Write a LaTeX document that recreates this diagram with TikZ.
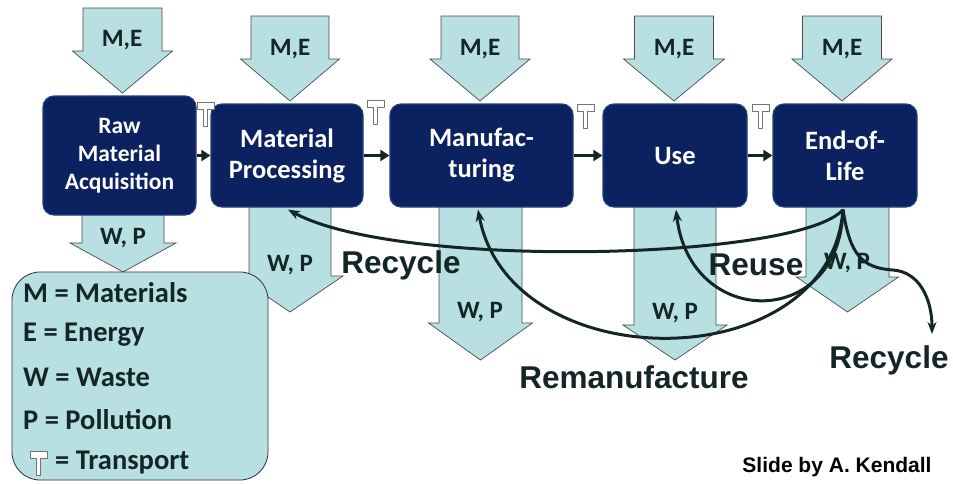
\documentclass[tikz,border=0pt]{standalone}
\usepackage{fontspec}
\setmainfont{Carlito}
\newfontfamily\arialf{Liberation Sans}
\usetikzlibrary{arrows.meta}
\definecolor{afill}{HTML}{B8E0E3}
\definecolor{navy}{HTML}{0C215F}
\definecolor{navyedge}{HTML}{23407F}
\definecolor{ink}{HTML}{142526}
\tikzset{
 blockarrow/.style={fill=afill, draw=black!70, line width=0.7pt, line join=miter},
 stage/.style={rounded corners=11pt, fill=navy, draw=navyedge, line width=1.2pt, text=white, align=center, inner sep=0pt, font=\fontsize{26.5}{31}\selectfont\bfseries},
 flowlbl/.style={text=ink, font=\fontsize{25}{28}\selectfont\bfseries, inner sep=0pt},
 leglbl/.style={text=ink, font=\fontsize{28.5}{30}\selectfont\bfseries, inner sep=0pt, anchor=west},
 bigtxt/.style={text=ink, font=\arialf\fontsize{31.5}{34}\selectfont\bfseries, inner sep=0pt},
 loopline/.style={draw=ink, line width=3pt, -{Stealth[length=12pt,width=9pt]}},
 flowline/.style={draw=ink, line width=3pt, -{Triangle[length=9pt,width=11pt]}},
 tsym/.style={fill=white, draw=black!55, line width=0.8pt, line join=round},
}
% center, shaft half width, top y, head y, head half width, tip y
\newcommand{\blkarrow}[6]{%
 \draw[blockarrow] ({#1-#2},#3) -- ({#1+#2},#3) -- ({#1+#2},#4) -- ({#1+#5},#4) -- (#1,#6) -- ({#1-#5},#4) -- ({#1-#2},#4) -- cycle;}
% transport mark at top-left corner
\newcommand{\tmark}[2]{%
 \draw[tsym, shift={(#1,#2)}] (0,0) -- (17,0) -- (17,7) -- (10.5,7) -- (10.5,24) -- (6.5,24) -- (6.5,7) -- (0,7) -- cycle;}
\begin{document}
\begin{tikzpicture}[x=1pt,y=-1pt]
\useasboundingbox (0,0) rectangle (953,483);
% input arrows
\blkarrow{122.5}{39.5}{8}{51}{50}{93}
\blkarrow{290}{39}{16}{59}{49.5}{101}
\blkarrow{480}{39}{16}{59}{50}{101}
\blkarrow{674}{39.5}{16}{59}{50.5}{101}
\blkarrow{842}{39.5}{16}{59}{50}{101}
% output arrows
\blkarrow{123}{41}{214}{243}{53}{272}
\blkarrow{290}{41}{206}{276}{53}{312}
\blkarrow{480.5}{41.5}{206}{323}{52}{360}
\blkarrow{675}{41}{206}{325}{52}{360}
\blkarrow{847.5}{41.5}{206}{277}{51}{312}
\node[flowlbl] (me1) at (122,40) {M,E};
\node[flowlbl] (me2) at (290,49) {M,E};
\node[flowlbl] (me3) at (480,49) {M,E};
\node[flowlbl] (me4) at (674,49) {M,E};
\node[flowlbl] (me5) at (842,49) {M,E};
\node[flowlbl] (wp1) at (123,238) {W, P};
\node[flowlbl] (wp2) at (290,265) {W, P};
\node[flowlbl] (wp3) at (480,312) {W, P};
\node[flowlbl] (wp4) at (675,313) {W, P};
\node[flowlbl] (wp5) at (847,263) {W, P};
% stages
\node[stage, minimum width=153pt, minimum height=119pt, font=\fontsize{23.5}{28}\selectfont\bfseries] (b1) at (119.5,155.5) {Raw\\Material\\Acquisition};
\node[stage, minimum width=152pt, minimum height=103pt] (b2) at (287,155.5) {Material\\Processing};
\node[stage, minimum width=183pt, minimum height=103pt] (b3) at (481.5,155.5) {Manufac-\\turing};
\node[stage, minimum width=144pt, minimum height=103pt] (b4) at (675,155.5) {Use};
\node[stage, minimum width=144pt, minimum height=103pt] (b5) at (845,155.5) {End-of-\\Life};
\draw[flowline] (b1.east) -- (b2.west);
\draw[flowline] (b2.east) -- (b3.west);
\draw[flowline] (b3.east) -- (b4.west);
\draw[flowline] (b4.east) -- (b5.west);
\tmark{197}{102}
\tmark{367}{100}
\tmark{577}{104}
\tmark{752}{104}
% loops
\coordinate (eol) at ([xshift=-2pt,yshift=-2pt]b5.south);
\draw[loopline] (eol) .. controls (800,260) and (400,270) .. ([xshift=1pt,yshift=-2pt]b2.south);
\draw[loopline] (eol) .. controls (830,380) and (510,380) .. ([xshift=-3.5pt,yshift=-2pt]b3.south);
\draw[loopline] (eol) .. controls (840,330) and (690,330) .. ([xshift=1pt,yshift=-2pt]b4.south);
\coordinate (rcend) at (932,334);
\draw[loopline] (eol) .. controls (850,255) and (862,268) .. (893,270) .. controls (920,272) and (932,300) .. (rcend);
\node[bigtxt] (rc1) at (401,265) {Recycle};
\node[bigtxt] (ru) at (756,265) {Reuse};
\node[bigtxt] (rm) at (634,377) {Remanufacture};
\node[bigtxt] (rc2) at (889,360) {Recycle};
% legend
\node[draw=black!80, line width=0.8pt, fill=afill, rounded corners=28pt, minimum width=256pt, minimum height=208pt, inner sep=0pt] (leg) at (140,376) {};
\node[leglbl] (l1) at (23,293) {M = Materials};
\node[leglbl] (l2) at (23,335) {E = Energy};
\node[leglbl] (l3) at (23,377) {W = Waste};
\node[leglbl] (l4) at (23,420) {P = Pollution};
\tmark{30}{451}
\node[leglbl] (l5) at (55,462) {= Transport};
\node[text=black, font=\arialf\fontsize{21}{24}\selectfont\bfseries, inner sep=0pt] (cred) at (837,467) {Slide by A. Kendall};
\end{tikzpicture}
\end{document}
